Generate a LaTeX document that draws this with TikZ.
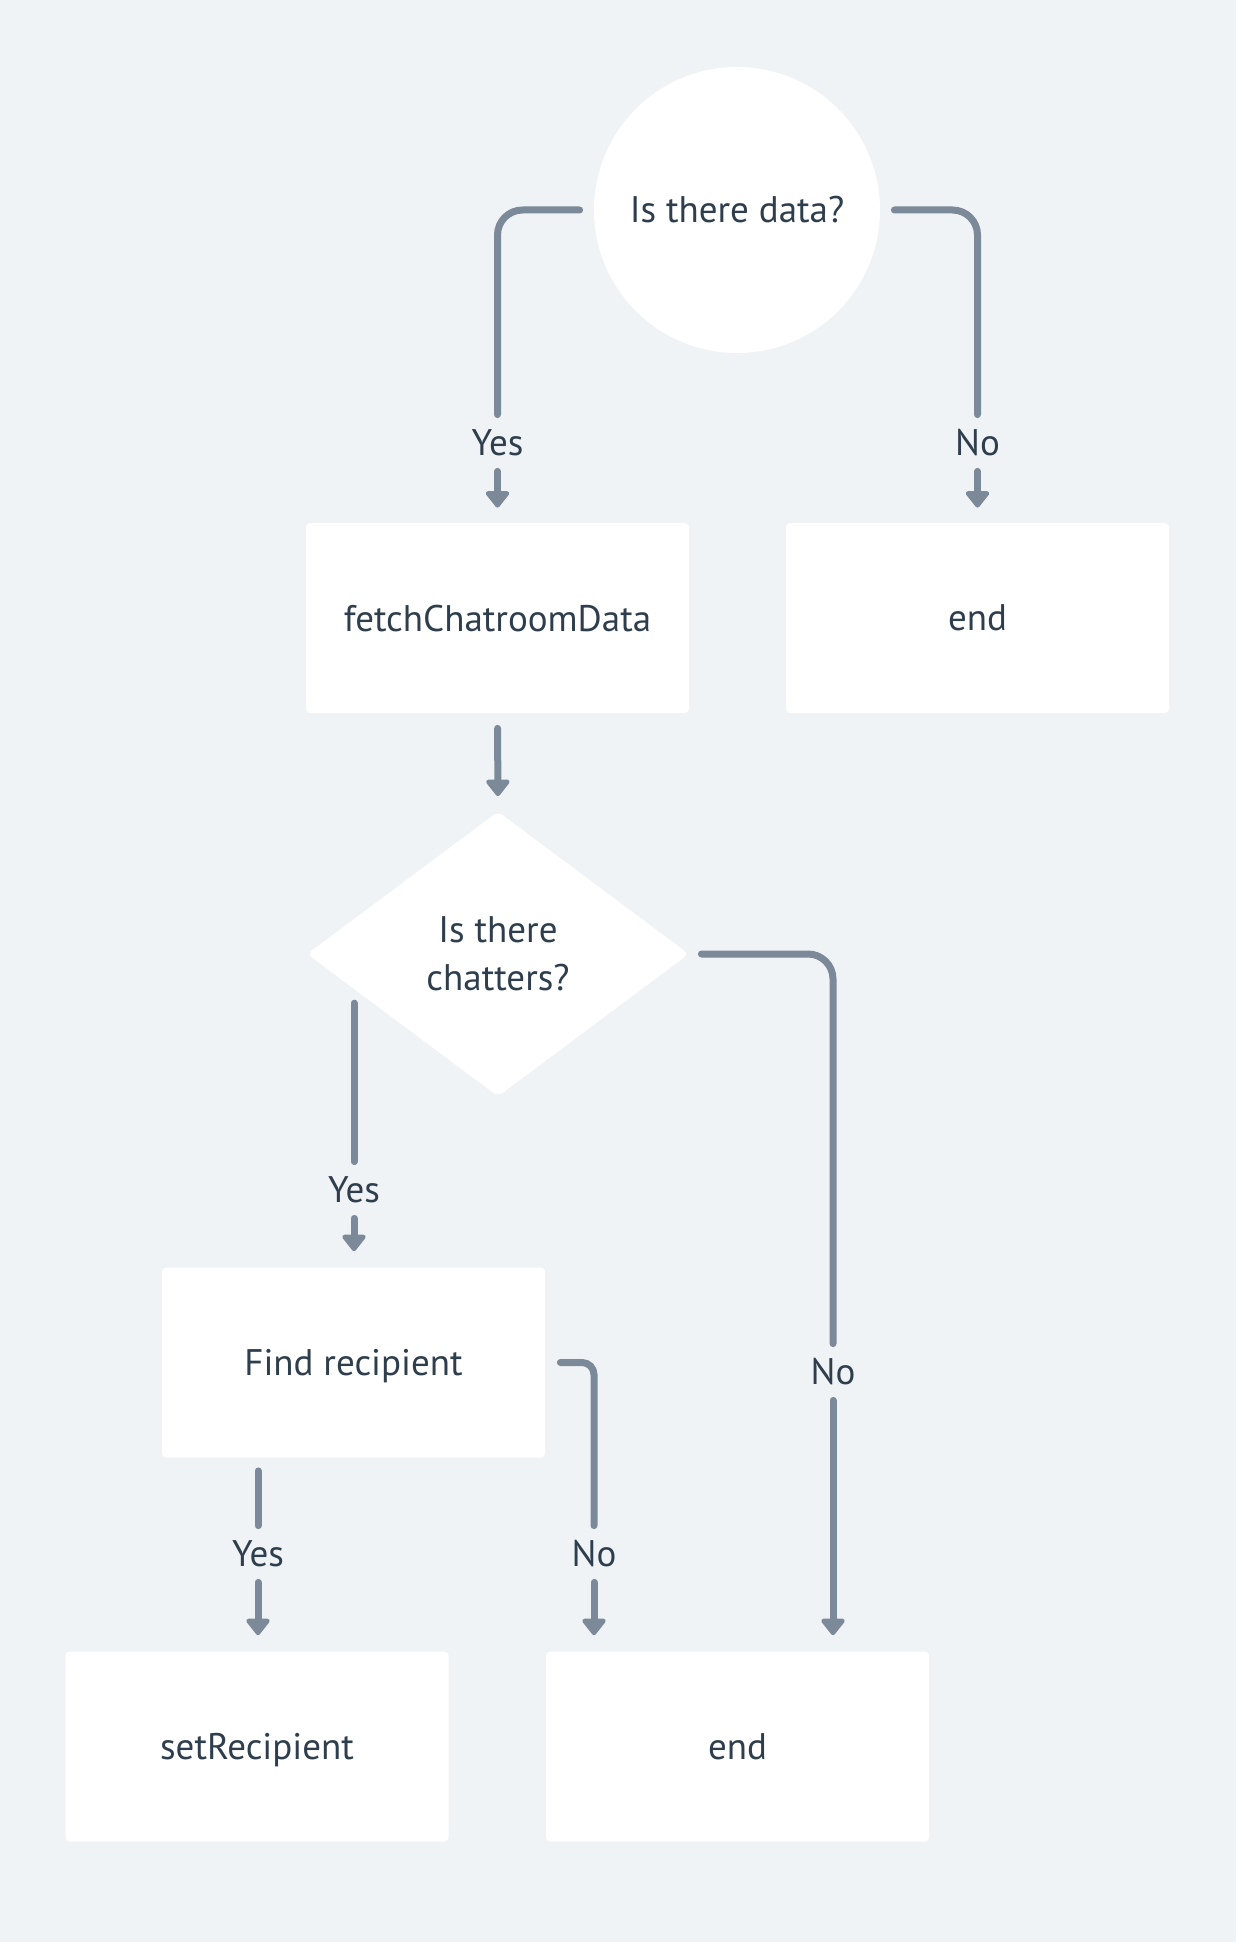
\documentclass[tikz,border=0pt]{standalone}
\usepackage{fontspec}
\setmainfont{PT Sans}
\usetikzlibrary{shapes.geometric,arrows.meta,calc}
\definecolor{bg}{HTML}{EFF3F6}
\definecolor{ln}{HTML}{7B8998}
\definecolor{tx}{HTML}{2F3E4D}
\tikzset{
  x=0.5pt, y=-0.5pt,
  base/.style={fill=white, draw=none, text=tx, font=\fontsize{18.5}{24}\selectfont},
  box/.style={base, rectangle, rounded corners=2pt, minimum width=191.5pt, minimum height=95pt, inner sep=0pt, text depth=0pt},
  circ/.style={base, circle, minimum size=143pt, inner sep=0pt},
  dia/.style={base, diamond, minimum width=191pt, minimum height=142.5pt, inner sep=0pt, rounded corners=3pt, align=center},
  lbl/.style={text=tx, font=\fontsize{18.5}{20}\selectfont, minimum height=28pt, inner sep=0pt},
  conn/.style={draw=ln, line width=3.5pt, line cap=round},
  arr/.style={conn, -{Triangle[width=13.5pt, length=9pt, round]}},
}
\begin{document}
\begin{tikzpicture}
\fill[bg] (0,0) rectangle (1236,1942);
\useasboundingbox (0,0) rectangle (1236,1942);

\node[circ] (q1) at (737,210) {Is there data?};
\node[box] (fetch) at (497.5,618) {fetchChatroomData};
\node[box] (end1) at (977.5,618) {end};
\node[dia] (q2) at (498,954) {Is there\\chatters?};
\node[box] (find) at (353.5,1362.5) {Find recipient};
\node[box] (setr) at (257,1746.5) {setRecipient};
\node[box] (end2) at (737.5,1746.5) {end};

\node[lbl] (yes1) at (497.5,443) {Yes};
\node[lbl] (no1) at (977.5,443) {No};
\node[lbl] (yes2) at (354,1190) {Yes};
\node[lbl] (no2) at (833,1372) {No};
\node[lbl] (yes3) at (258,1554) {Yes};
\node[lbl] (no3) at (594,1554) {No};

% Is there data?
\draw[conn, rounded corners=12.5pt, shorten <=7pt] (q1.west) -| (yes1.north);
\draw[arr, shorten >=7.5pt] (yes1.south) -- (fetch.north);
\draw[conn, rounded corners=12.5pt, shorten <=7pt] (q1.east) -| (no1.north);
\draw[arr, shorten >=7.5pt] (no1.south) -- (end1.north);

% fetch -> q2
\draw[arr, shorten <=7.5pt, shorten >=7.5pt] (fetch.south) -- (q2.north);

% q2 yes
\path ($(q2.west)!0.246!(q2.south)$) coordinate (q2sw);
\draw[conn, shorten <=7pt] (q2sw -| yes2.north) -- (yes2.north);
\draw[arr, shorten >=8pt] (yes2.south) -- (find.north -| yes2.south);

% q2 no
\draw[conn, rounded corners=12.5pt, shorten <=6pt] (q2.east) -| (no2.north);
\draw[arr, shorten >=8pt] (no2.south) -- (end2.north -| no2.south);

% find yes
\draw[conn, shorten <=6.5pt] (find.south -| yes3.north) -- (yes3.north);
\draw[arr, shorten >=8pt] (yes3.south) -- (setr.north -| yes3.south);

% find no
\draw[conn, rounded corners=6pt, shorten <=7.5pt] (find.east) -| (no3.north);
\draw[arr, shorten >=8pt] (no3.south) -- (end2.north -| no3.south);
\end{tikzpicture}
\end{document}
